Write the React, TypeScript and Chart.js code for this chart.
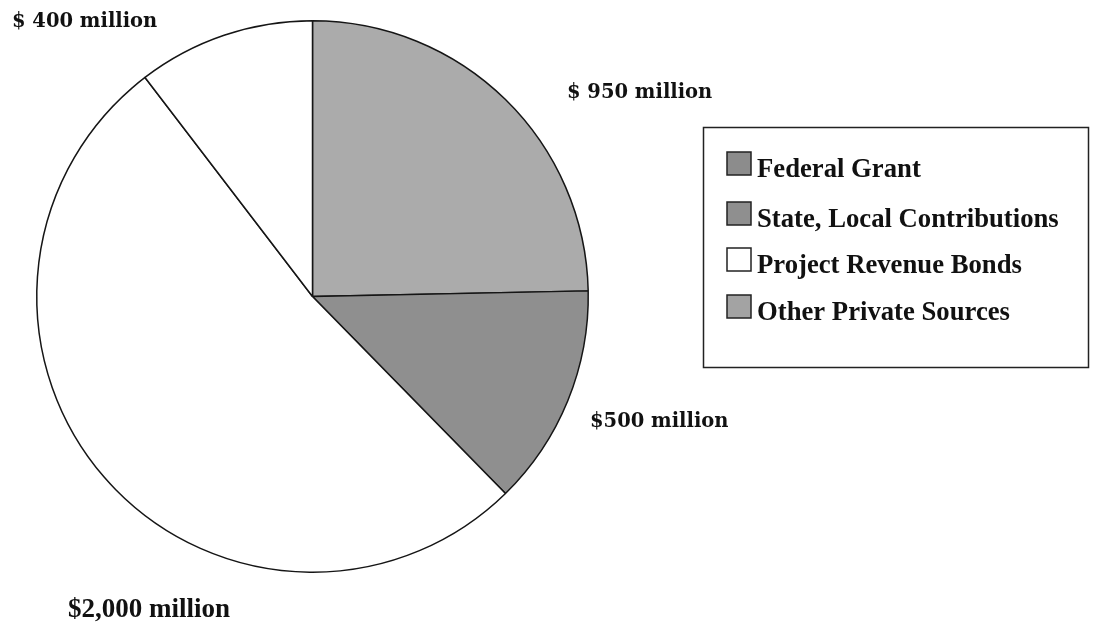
import React, { useEffect, useRef } from "react";
import { Chart, registerables } from "chart.js";

Chart.register(...registerables);

const categories = [
  "Federal Grant",
  "State, Local Contributions",
  "Project Revenue Bonds",
  "Other Private Sources",
];
const amounts = [950, 500, 2000, 400];
const valueLabels = ["$ 950 million", "$500 million", "$2,000 million", "$ 400 million"];
const sliceColors = ["#ababab", "#8f8f8f", "#ffffff", "#ffffff"];
const legendColors = ["#8c8c8c", "#8f8f8f", "#ffffff", "#a3a3a3"];

// label placement (x, baseline y, font)
const labelPos = [
  { x: 567, y: 98, font: "bold 19.5px 'DejaVu Serif', 'Liberation Serif', serif" },
  { x: 590, y: 427, font: "bold 19.5px 'DejaVu Serif', 'Liberation Serif', serif" },
  { x: 68, y: 617, font: "bold 27px 'Liberation Serif'" },
  { x: 12, y: 27, font: "bold 19.5px 'DejaVu Serif', 'Liberation Serif', serif" },
];

const boxLegendPlugin = {
  id: "boxLegend",
  afterDraw(chart: any) {
    const ctx = chart.ctx;
    ctx.save();
    // legend frame
    ctx.strokeStyle = "#222";
    ctx.lineWidth = 1.5;
    ctx.strokeRect(703.5, 127.5, 385, 240);
    const labels: string[] = chart.data.labels;
    const baselines = [177, 227, 273, 320];
    ctx.font = "bold 26.7px 'Liberation Serif'";
    ctx.textBaseline = "alphabetic";
    ctx.textAlign = "left";
    labels.forEach((lab, i) => {
      const b = baselines[i];
      ctx.fillStyle = legendColors[i];
      ctx.fillRect(727, b - 25, 24, 23);
      ctx.strokeStyle = "#222";
      ctx.lineWidth = 1.5;
      ctx.strokeRect(727, b - 25, 24, 23);
      ctx.fillStyle = "#111";
      ctx.fillText(lab, 757, b);
    });
    // value labels
    valueLabels.forEach((t, i) => {
      const p = labelPos[i];
      ctx.font = p.font;
      ctx.fillStyle = "#111";
      ctx.fillText(t, p.x, p.y);
    });
    ctx.restore();
  },
};

export default function App() {
  const ref = useRef<HTMLCanvasElement | null>(null);
  useEffect(() => {
    document.body.style.margin = "0";
    document.body.style.background = "#fff";
    if (!ref.current) return;
    const chart = new Chart(ref.current, {
      type: "pie",
      data: {
        labels: categories,
        datasets: [
          {
            data: amounts,
            backgroundColor: sliceColors,
            borderColor: "#151515",
            borderWidth: 1.5,
          },
        ],
      },
      options: {
        responsive: false,
        maintainAspectRatio: false,
        animation: false,
        layout: { padding: { left: 36, right: 506, top: 18, bottom: 48 } },
        plugins: {
          legend: { display: false },
          tooltip: { enabled: false },
        },
      },
      plugins: [boxLegendPlugin],
    });
    return () => chart.destroy();
  }, []);
  return (
    <div style={{ width: 1095, height: 623, background: "#fff" }}>
      <canvas ref={ref} width={1095} height={623} style={{ display: "block" }} />
    </div>
  );
}
